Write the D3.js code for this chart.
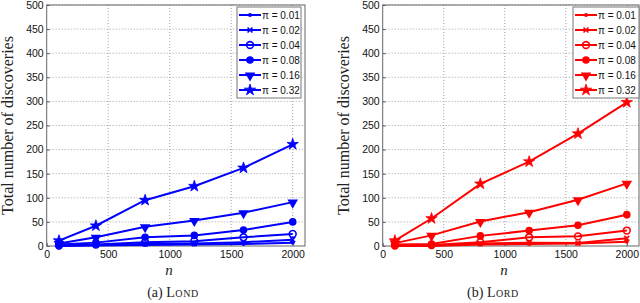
<!DOCTYPE html>
<meta charset="utf-8">
<style>
    body { margin: 0; background: #fff; }
    text { font-family: "Liberation Sans", Arial, sans-serif; }
    .grid line { stroke: #8a8a8a; stroke-width: 0.8px; stroke-dasharray: 1,2; }
    .serif { font-family: "Liberation Serif", "DejaVu Serif", serif; }
</style>
<svg width="640" height="303"></svg>
<script src="https://d3js.org/d3.v7.min.js"></script>
<script>
    const nValues = [100, 400, 800, 1200, 1600, 2000];
    const piLabels = ["π = 0.01", "π = 0.02", "π = 0.04", "π = 0.08", "π = 0.16", "π = 0.32"];
    const xTicks = [0, 500, 1000, 1500, 2000];
    const yTicks = [0, 50, 100, 150, 200, 250, 300, 350, 400, 450, 500];

    // LOND discoveries, one row per pi
    const londValues = [
        [0, 1, 2, 3, 4, 7],
        [1, 2, 4, 5, 8, 13],
        [1, 3, 8, 10, 18, 25],
        [3, 7, 18, 22, 33, 50],
        [5, 18, 40, 53, 69, 91],
        [11, 42, 95, 124, 162, 211]
    ];
    // LORD discoveries
    const lordValues = [
        [0, 0, 3, 4, 5, 9],
        [1, 1, 5, 7, 6, 16],
        [1, 2, 8, 18, 20, 32],
        [3, 4, 21, 32, 43, 65],
        [6, 22, 51, 70, 96, 130],
        [11, 57, 129, 175, 233, 298]
    ];

    const markers = ["dot", "cross", "ring", "disc", "tri", "star"];

    const svg = d3.select("svg");

    function drawMarker(g, kind, x, y, color) {
        if (kind === "dot") {
            g.append("circle").attr("cx", x).attr("cy", y).attr("r", 2).attr("fill", color);
        } else if (kind === "cross") {
            g.append("path").attr("transform", `translate(${x},${y}) rotate(45)`)
                .attr("fill", "none").attr("stroke", color).attr("stroke-width", 1.6)
                .attr("d", "M-3.5,0H3.5M0,-3.5V3.5");
        } else if (kind === "ring") {
            g.append("circle").attr("cx", x).attr("cy", y).attr("r", 3.4)
                .attr("fill", "none").attr("stroke", color).attr("stroke-width", 1.6);
        } else if (kind === "disc") {
            g.append("circle").attr("cx", x).attr("cy", y).attr("r", 3.8).attr("fill", color);
        } else if (kind === "tri") {
            g.append("path").attr("transform", `translate(${x},${y + 0.5}) rotate(180)`)
                .attr("d", d3.symbol(d3.symbolTriangle).size(48)()).attr("fill", color);
        } else if (kind === "star") {
            g.append("path").attr("transform", `translate(${x},${y})`)
                .attr("d", d3.symbol(d3.symbolStar).size(40)()).attr("fill", color)
                .attr("stroke", color).attr("stroke-width", 0.8);
        }
    }

    function panel(opts) {
        const x = d3.scaleLinear().domain([0, 2100]).range([opts.left, opts.right]);
        const y = d3.scaleLinear().domain([0, 500]).range([opts.bottom, opts.top]);
        const g = svg.append("g");

        const grid = g.append("g").attr("class", "grid");
        grid.selectAll("line.v").data(xTicks.slice(1)).enter().append("line")
            .attr("x1", d => x(d)).attr("x2", d => x(d))
            .attr("y1", opts.top).attr("y2", opts.bottom);
        grid.selectAll("line.h").data(yTicks.slice(1)).enter().append("line")
            .attr("x1", opts.left).attr("x2", opts.right)
            .attr("y1", d => y(d)).attr("y2", d => y(d));

        // axes, ticks pointing inward
        const ax = g.append("g").attr("transform", `translate(0,${opts.bottom})`)
            .call(d3.axisBottom(x).tickValues(xTicks).tickFormat(d3.format("d"))
                .tickSizeInner(-3).tickSizeOuter(0).tickPadding(5));
        const ay = g.append("g").attr("transform", `translate(${opts.left},0)`)
            .call(d3.axisLeft(y).tickValues(yTicks).tickFormat(d3.format("d"))
                .tickSizeInner(-3).tickSizeOuter(0).tickPadding(3));
        [ax, ay].forEach(a => {
            a.select(".domain").remove();
            a.selectAll("line").attr("stroke", "#555");
            a.selectAll("text").attr("font-size", 10.5).attr("fill", "#111")
                .attr("font-family", "Liberation Sans, Arial, sans-serif");
        });
        g.append("rect").attr("x", opts.left).attr("y", opts.top)
            .attr("width", opts.right - opts.left).attr("height", opts.bottom - opts.top)
            .attr("fill", "none").attr("stroke", "#666").attr("stroke-width", 1);

        const line = d3.line().x((d, i) => x(nValues[i])).y(d => y(d));
        opts.values.forEach((row, k) => {
            const s = g.append("g");
            s.append("path").datum(row).attr("d", line)
                .attr("fill", "none").attr("stroke", opts.color).attr("stroke-width", 2);
            row.forEach((v, i) => drawMarker(s, markers[k], x(nValues[i]), y(v), opts.color));
        });

        // legend
        const lg = g.append("g");
        lg.append("rect").attr("x", opts.legX).attr("y", 7)
            .attr("width", opts.legW).attr("height", 91)
            .attr("fill", "#fff").attr("stroke", "#777").attr("stroke-width", 1);
        piLabels.forEach((lab, k) => {
            const ly = 15 + k * 15;
            lg.append("line").attr("x1", opts.legX + 2).attr("x2", opts.legX + 24)
                .attr("y1", ly).attr("y2", ly).attr("stroke", opts.color).attr("stroke-width", 2);
            drawMarker(lg, markers[k], opts.legX + 13, ly, opts.color);
            lg.append("text").attr("x", opts.legX + 25).attr("y", ly + 3.5)
                .attr("font-size", 10).attr("fill", "#111").text(lab);
        });

        // labels
        const cy = (opts.top + opts.bottom) / 2;
        g.append("text").attr("class", "serif")
            .attr("transform", `translate(${opts.ylabX},${cy}) rotate(-90)`)
            .attr("text-anchor", "middle").attr("font-size", 16).attr("fill", "#222")
            .text("Total number of discoveries");
        g.append("text").attr("class", "serif").attr("x", opts.nX).attr("y", 275)
            .attr("text-anchor", "middle").attr("font-size", 15).attr("font-style", "italic")
            .attr("fill", "#222").text("n");
        const cap = g.append("text").attr("class", "serif").attr("x", opts.capX).attr("y", 297)
            .attr("text-anchor", "middle").attr("font-size", 14).attr("fill", "#222");
        cap.append("tspan").text(opts.capA + " ");
        cap.append("tspan").attr("font-variant", "small-caps").attr("letter-spacing", 0.6).text(opts.capB);
    }

    panel({
        left: 46.7, right: 305, top: 5, bottom: 246,
        values: londValues, color: "#0000ff",
        legX: 237, legW: 64, ylabX: 13, nX: 169, capX: 173, capA: "(a)", capB: "Lond"
    });
    panel({
        left: 382.7, right: 639, top: 5, bottom: 246,
        values: lordValues, color: "#ff0000",
        legX: 573, legW: 66, ylabX: 349, nX: 504, capX: 493, capA: "(b)", capB: "Lord"
    });
</script>
